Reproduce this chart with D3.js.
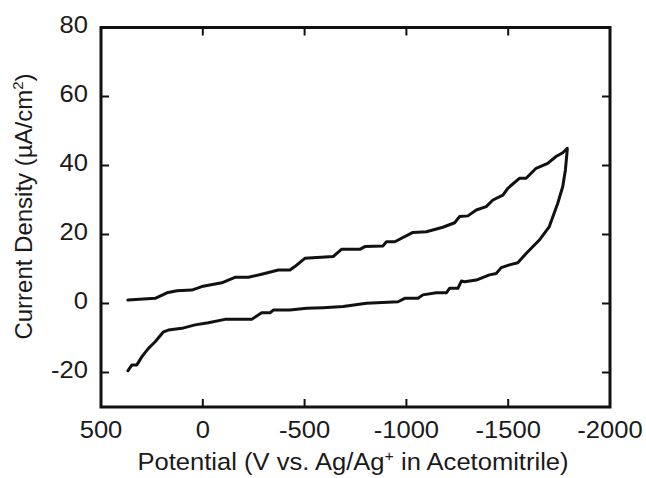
<!DOCTYPE html>
<html>
<head>
<meta charset="utf-8">
<script src="https://cdn.jsdelivr.net/npm/d3@7"></script>
<style>
  body { margin: 0; background: #fff; }
  text { font-family: "Liberation Sans", Arial, Helvetica, sans-serif; fill: #1a1a1a; }
</style>
</head>
<body>
<svg id="cv" width="646" height="478"></svg>
<script>
// forward sweep (upper branch), potential in V and current density
var fwdPotential = [368, 234, 176, 127, 54, 5, -93, -158, -224, -289, -371, -428, -452,
  -501, -640, -681, -771, -796, -885, -902, -943, -1032, -1098, -1179, -1237, -1261,
  -1302, -1343, -1392, -1425, -1474, -1498, -1555, -1588, -1637, -1694, -1735, -1768, -1790];
var fwdCurrent = [1.0, 1.5, 3.1, 3.7, 3.9, 4.9, 6.0, 7.6, 7.6, 8.5, 9.7, 9.7, 10.7,
  13.1, 13.6, 15.7, 15.7, 16.5, 16.7, 17.9, 17.9, 20.6, 20.8, 22.1, 23.4, 25.2,
  25.4, 27.1, 28.1, 30.0, 31.4, 33.4, 36.3, 36.3, 39.2, 40.6, 42.6, 43.7, 45.0];

// reverse sweep (lower branch)
var revPotential = [-1790, -1781, -1768, -1743, -1702, -1653, -1588, -1547, -1506, -1466,
  -1441, -1408, -1343, -1286, -1270, -1253, -1212, -1196, -1147, -1081, -1057, -992,
  -959, -804, -689, -591, -510, -428, -346, -330, -289, -265, -240, -109, -27, 38,
  103, 169, 193, 234, 267, 299, 324, 348, 368];
var revCurrent = [44.5, 38.7, 33.9, 29.0, 22.3, 18.4, 14.5, 11.8, 11.2, 10.4,
  8.7, 8.3, 6.8, 6.3, 6.5, 4.4, 4.4, 3.1, 3.1, 2.5, 1.5, 1.5,
  0.5, 0.1, -0.9, -1.2, -1.4, -1.9, -1.9, -2.7, -2.7, -3.6, -4.6, -4.6, -5.6, -6.2,
  -7.2, -7.7, -8.2, -11.1, -13.0, -15.4, -17.8, -17.8, -19.5];

var xTicks = [500, 0, -500, -1000, -1500, -2000];
var yTicks = [-20, 0, 20, 40, 60, 80];

var margin = {top: 27.5, right: 36, bottom: 71, left: 101};
var svg = d3.select("#cv");
var width = +svg.attr("width"), height = +svg.attr("height");

var x = d3.scaleLinear().domain([500, -2000]).range([margin.left, width - margin.right]);
var y = d3.scaleLinear().domain([-30, 80]).range([height - margin.bottom, margin.top]);

var pts = [];
for (var i = 0; i < fwdPotential.length; i++) pts.push([fwdPotential[i], fwdCurrent[i]]);
for (var j = 0; j < revPotential.length; j++) pts.push([revPotential[j], revCurrent[j]]);

var line = d3.line().x(d => x(d[0])).y(d => y(d[1]));

svg.append("path")
  .datum(pts)
  .attr("fill", "none")
  .attr("stroke", "#111")
  .attr("stroke-width", 3)
  .attr("stroke-linejoin", "round")
  .attr("stroke-linecap", "round")
  .attr("d", line);

// ticks pointing inward on all four sides
var tl = 8;
var axisG = svg.append("g").attr("stroke", "#111").attr("stroke-width", 2);
xTicks.forEach(function(t) {
  axisG.append("line").attr("x1", x(t)).attr("x2", x(t))
    .attr("y1", y(-30)).attr("y2", y(-30) - tl);
  axisG.append("line").attr("x1", x(t)).attr("x2", x(t))
    .attr("y1", y(80)).attr("y2", y(80) + tl);
});
yTicks.forEach(function(t) {
  axisG.append("line").attr("x1", x(500)).attr("x2", x(500) + tl)
    .attr("y1", y(t)).attr("y2", y(t));
  axisG.append("line").attr("x1", x(-2000)).attr("x2", x(-2000) - tl)
    .attr("y1", y(t)).attr("y2", y(t));
});

svg.append("rect")
  .attr("x", x(500)).attr("y", y(80))
  .attr("width", x(-2000) - x(500)).attr("height", y(-30) - y(80))
  .attr("fill", "none").attr("stroke", "#111").attr("stroke-width", 3);

// horizontal text in the reference is a touch wider than Liberation Sans
var sx = 1.065;

svg.selectAll(".xl").data(xTicks).enter().append("text")
  .attr("transform", d => "translate(" + x(d) + "," + (y(-30) + 30.5) + ") scale(" + sx + ",1)")
  .attr("text-anchor", "middle").attr("font-size", 24)
  .text(d => d);

svg.selectAll(".yl").data(yTicks).enter().append("text")
  .attr("transform", d => "translate(88," + (y(d) + 5.5) + ") scale(" + sx + ",1)")
  .attr("text-anchor", "end").attr("font-size", 24)
  .text(d => d);

var xt = svg.append("text")
  .attr("transform", "translate(353,470) scale(" + sx + ",1)")
  .attr("text-anchor", "middle").attr("font-size", 24);
xt.append("tspan").text("Potential (V vs. Ag/Ag");
xt.append("tspan").attr("font-size", 15).attr("dy", -9).text("+");
xt.append("tspan").attr("dy", 9).text(" in Acetomitrile)");

var yt = svg.append("text")
  .attr("transform", "translate(32,206.5) rotate(-90)")
  .attr("text-anchor", "middle").attr("font-size", 24);
yt.append("tspan").text("Current Density (\u00b5A/cm");
yt.append("tspan").attr("font-size", 15).attr("dy", -9).text("2");
yt.append("tspan").attr("dy", 9).text(")");
</script>
</body>
</html>
